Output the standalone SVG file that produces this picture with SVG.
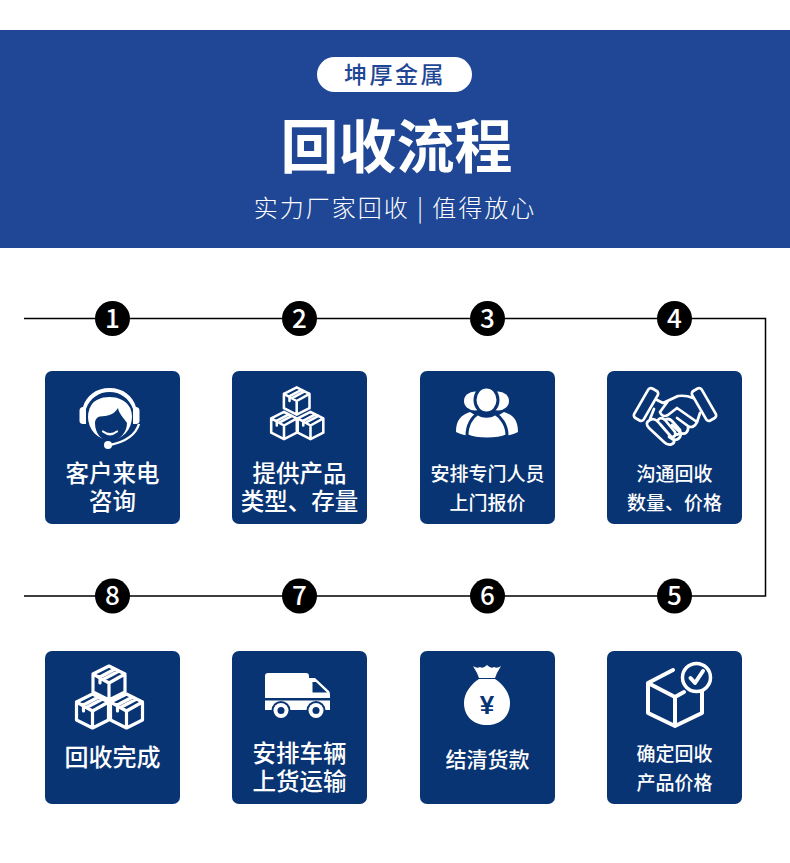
<svg xmlns="http://www.w3.org/2000/svg" xmlns:xlink="http://www.w3.org/1999/xlink" width="790" height="863" viewBox="0 0 790 863">
<style>
text{font-family:"Noto Sans CJK SC","Liberation Sans",sans-serif;text-anchor:middle}
.card{fill:#083473}
.lbl{fill:#fff;font-size:23.500px;font-weight:500}
.sm{fill:#fff;font-size:19px;font-weight:500}
.dot{fill:#000}
.num{fill:#fff;font-size:26px;font-weight:500}
.ln{fill:none;stroke:#fff;stroke-width:3.200;stroke-linejoin:round;stroke-linecap:round}
.hs{fill:none;stroke:#fff;stroke-width:2.700;stroke-linejoin:round;stroke-linecap:round}
.w{fill:#fff}.n{fill:#083473}.ol{stroke:#083473;stroke-width:3;fill:#fff}
</style>
<defs>
<g id="cube"><path class="ln" d="M0,-17 16,-9V9L0,17-16,9V-9ZM-16,-9 0,0 16,-9M0,0V17M-10,-5.500 6,-14M-6,-3.500 10,-12M-9,-5V0"/></g>
</defs>
<rect width="790" height="863" fill="#fff"/>
<g id="header">
<rect y="30" width="790" height="218" fill="#1f4795"/>
<rect x="317" y="57" width="155" height="35" rx="17.500" fill="#fff"/>
<text x="395" y="83" font-size="23" letter-spacing="2.500" fill="#1f4795" font-weight="500">坤厚金属</text>
<text x="396.500" y="168" font-size="58" fill="#fff" font-weight="700">回收流程</text>
<text x="395" y="217" font-size="24" letter-spacing="2" fill="#fff" font-weight="300">实力厂家回收 | 值得放心</text>
</g>
<g id="connectors"><path d="M24,318.500H765.500V596H24" fill="none" stroke="#000" stroke-width="1.500"/></g>
<g id="n1"><circle class="dot" cx="112.500" cy="318.500" r="17.500"/><text class="num" x="112.500" y="327.500">1</text>
<rect class="card" x="45" y="371" width="135" height="153" rx="7"/>
<path class="w" d="M79.500,411C79.500,408 81,407 83,407C86,396 96,388 109.500,388C123,388 133,396 136,407C138,407 139.500,408 139.500,411V421C139.500,423 138,424 136,424H133V409C129,398 120,392 109.500,392C99,392 90,398 86,409V424H83C81,424 79.500,423 79.500,421Z"/>
<ellipse class="w" cx="110" cy="417" rx="22" ry="23"/>
<path class="n" d="M88,409C93,396 101,393 109.500,393C118,393 126,396 131,409C126,400 118,397 109.500,397C101,397 93,400 88,409Z"/>
<path class="n" d="M95,423C95,420 97,417 100,416.500C107,416 114,415 118,408C119,414 124,418 127,423C127,433 119,441 110,441C101,441 95,433 95,423Z"/>
<path d="M103,431.500Q110,437 117,431.500" fill="none" stroke="#fff" stroke-width="2.200" stroke-linecap="round"/>
<path d="M139,424Q134,440 110,445" fill="none" stroke="#fff" stroke-width="2.400"/><circle class="w" cx="108" cy="445" r="4"/>
<text class="lbl"><tspan x="112.500" y="482">客户来电</tspan><tspan x="112.500" y="510">咨询</tspan></text></g>
<g id="n2"><circle class="dot" cx="299.500" cy="318.500" r="17.500"/><text class="num" x="299.500" y="327.500">2</text>
<rect class="card" x="232" y="371" width="135" height="153" rx="7"/>
<use xlink:href="#cube" href="#cube" transform="translate(296.700,401) scale(.8)"/>
<use xlink:href="#cube" href="#cube" transform="translate(284,425.500) scale(.8)"/>
<use xlink:href="#cube" href="#cube" transform="translate(310.500,425.500) scale(.8)"/>
<text class="lbl"><tspan x="299.500" y="482">提供产品</tspan><tspan x="299.500" y="510">类型、存量</tspan></text></g>
<g id="n3"><circle class="dot" cx="487.500" cy="318.500" r="17.500"/><text class="num" x="487.500" y="327.500">3</text>
<rect class="card" x="420" y="371" width="135" height="153" rx="7"/>
<ellipse class="w" cx="475" cy="401" rx="11" ry="9.500"/><ellipse class="w" cx="498" cy="401" rx="11" ry="9.500"/>
<path class="w" d="M456,432C456,420 461,415 470,412L480,418 472,436C466,436 460,434 456,432ZM518,432C518,420 513,415 504,412L494,418 502,436C508,436 514,434 518,432Z"/>
<ellipse class="ol" cx="486.500" cy="400" rx="11.500" ry="13"/>
<path class="ol" d="M467,435.500C467,425 472,417 478,413.500C482,417 491,417 495,413.500C501,417 507,425 507,435.500C497,440 477,440 467,435.500Z"/>
<text class="sm"><tspan x="487.500" y="481">安排专门人员</tspan><tspan x="487.500" y="510">上门报价</tspan></text></g>
<g id="n4"><circle class="dot" cx="674.500" cy="318.500" r="17.500"/><text class="num" x="674.500" y="327.500">4</text>
<rect class="card" x="607" y="371" width="135" height="153" rx="7"/>
<g class="hs">
<rect x="-5.500" y="-17" width="11" height="34" rx="3" transform="translate(646,404.500) rotate(30)"/>
<rect x="-5.500" y="-17" width="11" height="34" rx="3" transform="translate(704,404.500) rotate(-30)"/>
<path d="M657,400 663,403 678,396Q686,395 693,398M668,401 660,412Q662,418 668,415L677,408 697,422 700,413"/>
<path d="M697,422C695,427 691,428 688,426 689,432 685,435 681,433 681,439 676,441 672,439L669,437M688,426 677,418M681,433 672,425"/>
<path d="M654,409 650,419M650,420C646,422 646,425 649,428L664,442C669,447 675,444 674,440L660,424C657,420 653,418 650,420ZM658,420C660,417 663,418 665,420L675,432C677,436 672,439 669,435M665,420C668,418 670,419 672,421L680,430C681,434 677,436 675,433"/>
</g>
<text class="sm"><tspan x="674.500" y="481">沟通回收</tspan><tspan x="674.500" y="510">数量、价格</tspan></text></g>
<g id="n5"><circle class="dot" cx="674.500" cy="596" r="17.500"/><text class="num" x="674.500" y="604.500">5</text>
<rect class="card" x="607" y="651" width="135" height="153" rx="7"/>
<path class="ln" style="stroke-width:4" d="M673,670 648,683V713L675,726 702,713V690M648,683 675,697V726M675,697 684,692"/>
<circle cx="696.500" cy="677.500" r="14" fill="#083473" stroke="#fff" stroke-width="3.500"/>
<path d="M690.500,678 695,683 703,671" fill="none" stroke="#fff" stroke-width="4" stroke-linecap="round" stroke-linejoin="round"/>
<text class="sm"><tspan x="674.500" y="761">确定回收</tspan><tspan x="674.500" y="790">产品价格</tspan></text></g>
<g id="n6"><circle class="dot" cx="487.500" cy="596" r="17.500"/><text class="num" x="487.500" y="604.500">6</text>
<rect class="card" x="420" y="651" width="135" height="153" rx="7"/>
<path class="w" d="M473,666Q477,669 480,667 483,669 487,665 491,669 494,667 497,669 501,666L497,673 495,678H479L477,673ZM479,679H495C503,684 510,693 510,703C510,717 500,725 487,725C474,725 464,717 464,703C464,693 471,684 479,679Z"/>
<text x="487" y="714" font-size="26" font-weight="700" fill="#083473" style="font-family:'Liberation Sans',sans-serif">¥</text>
<text class="lbl" style="font-size:21px" x="487.500" y="767">结清货款</text></g>
<g id="n7"><circle class="dot" cx="299.500" cy="596" r="17.500"/><text class="num" x="299.500" y="604.500">7</text>
<rect class="card" x="232" y="651" width="135" height="153" rx="7"/>
<path class="w" d="M268,673H306Q309,673 309,676V678H315L329,691Q330,692 330,695V710H265V676Q265,673 268,673Z"/>
<path class="n" d="M312.500,682H316L327,692.500H312.500ZM265,698H330V700.500H265Z"/>
<circle class="n" cx="281" cy="710.500" r="9.500"/><circle class="w" cx="281" cy="710.500" r="7.500"/><circle class="n" cx="281" cy="710.500" r="3.500"/>
<circle class="n" cx="316" cy="710.500" r="9.500"/><circle class="w" cx="316" cy="710.500" r="7.500"/><circle class="n" cx="316" cy="710.500" r="3.500"/>
<text class="lbl"><tspan x="299.500" y="762">安排车辆</tspan><tspan x="299.500" y="790">上货运输</tspan></text></g>
<g id="n8"><circle class="dot" cx="112.500" cy="596" r="17.500"/><text class="num" x="112.500" y="604.500">8</text>
<rect class="card" x="45" y="651" width="135" height="153" rx="7"/>
<use xlink:href="#cube" href="#cube" transform="translate(109,683)"/>
<use xlink:href="#cube" href="#cube" transform="translate(92.500,711)"/>
<use xlink:href="#cube" href="#cube" transform="translate(126.500,711)"/>
<text class="lbl" style="font-size:24px" x="112.500" y="766">回收完成</text></g>
</svg>
